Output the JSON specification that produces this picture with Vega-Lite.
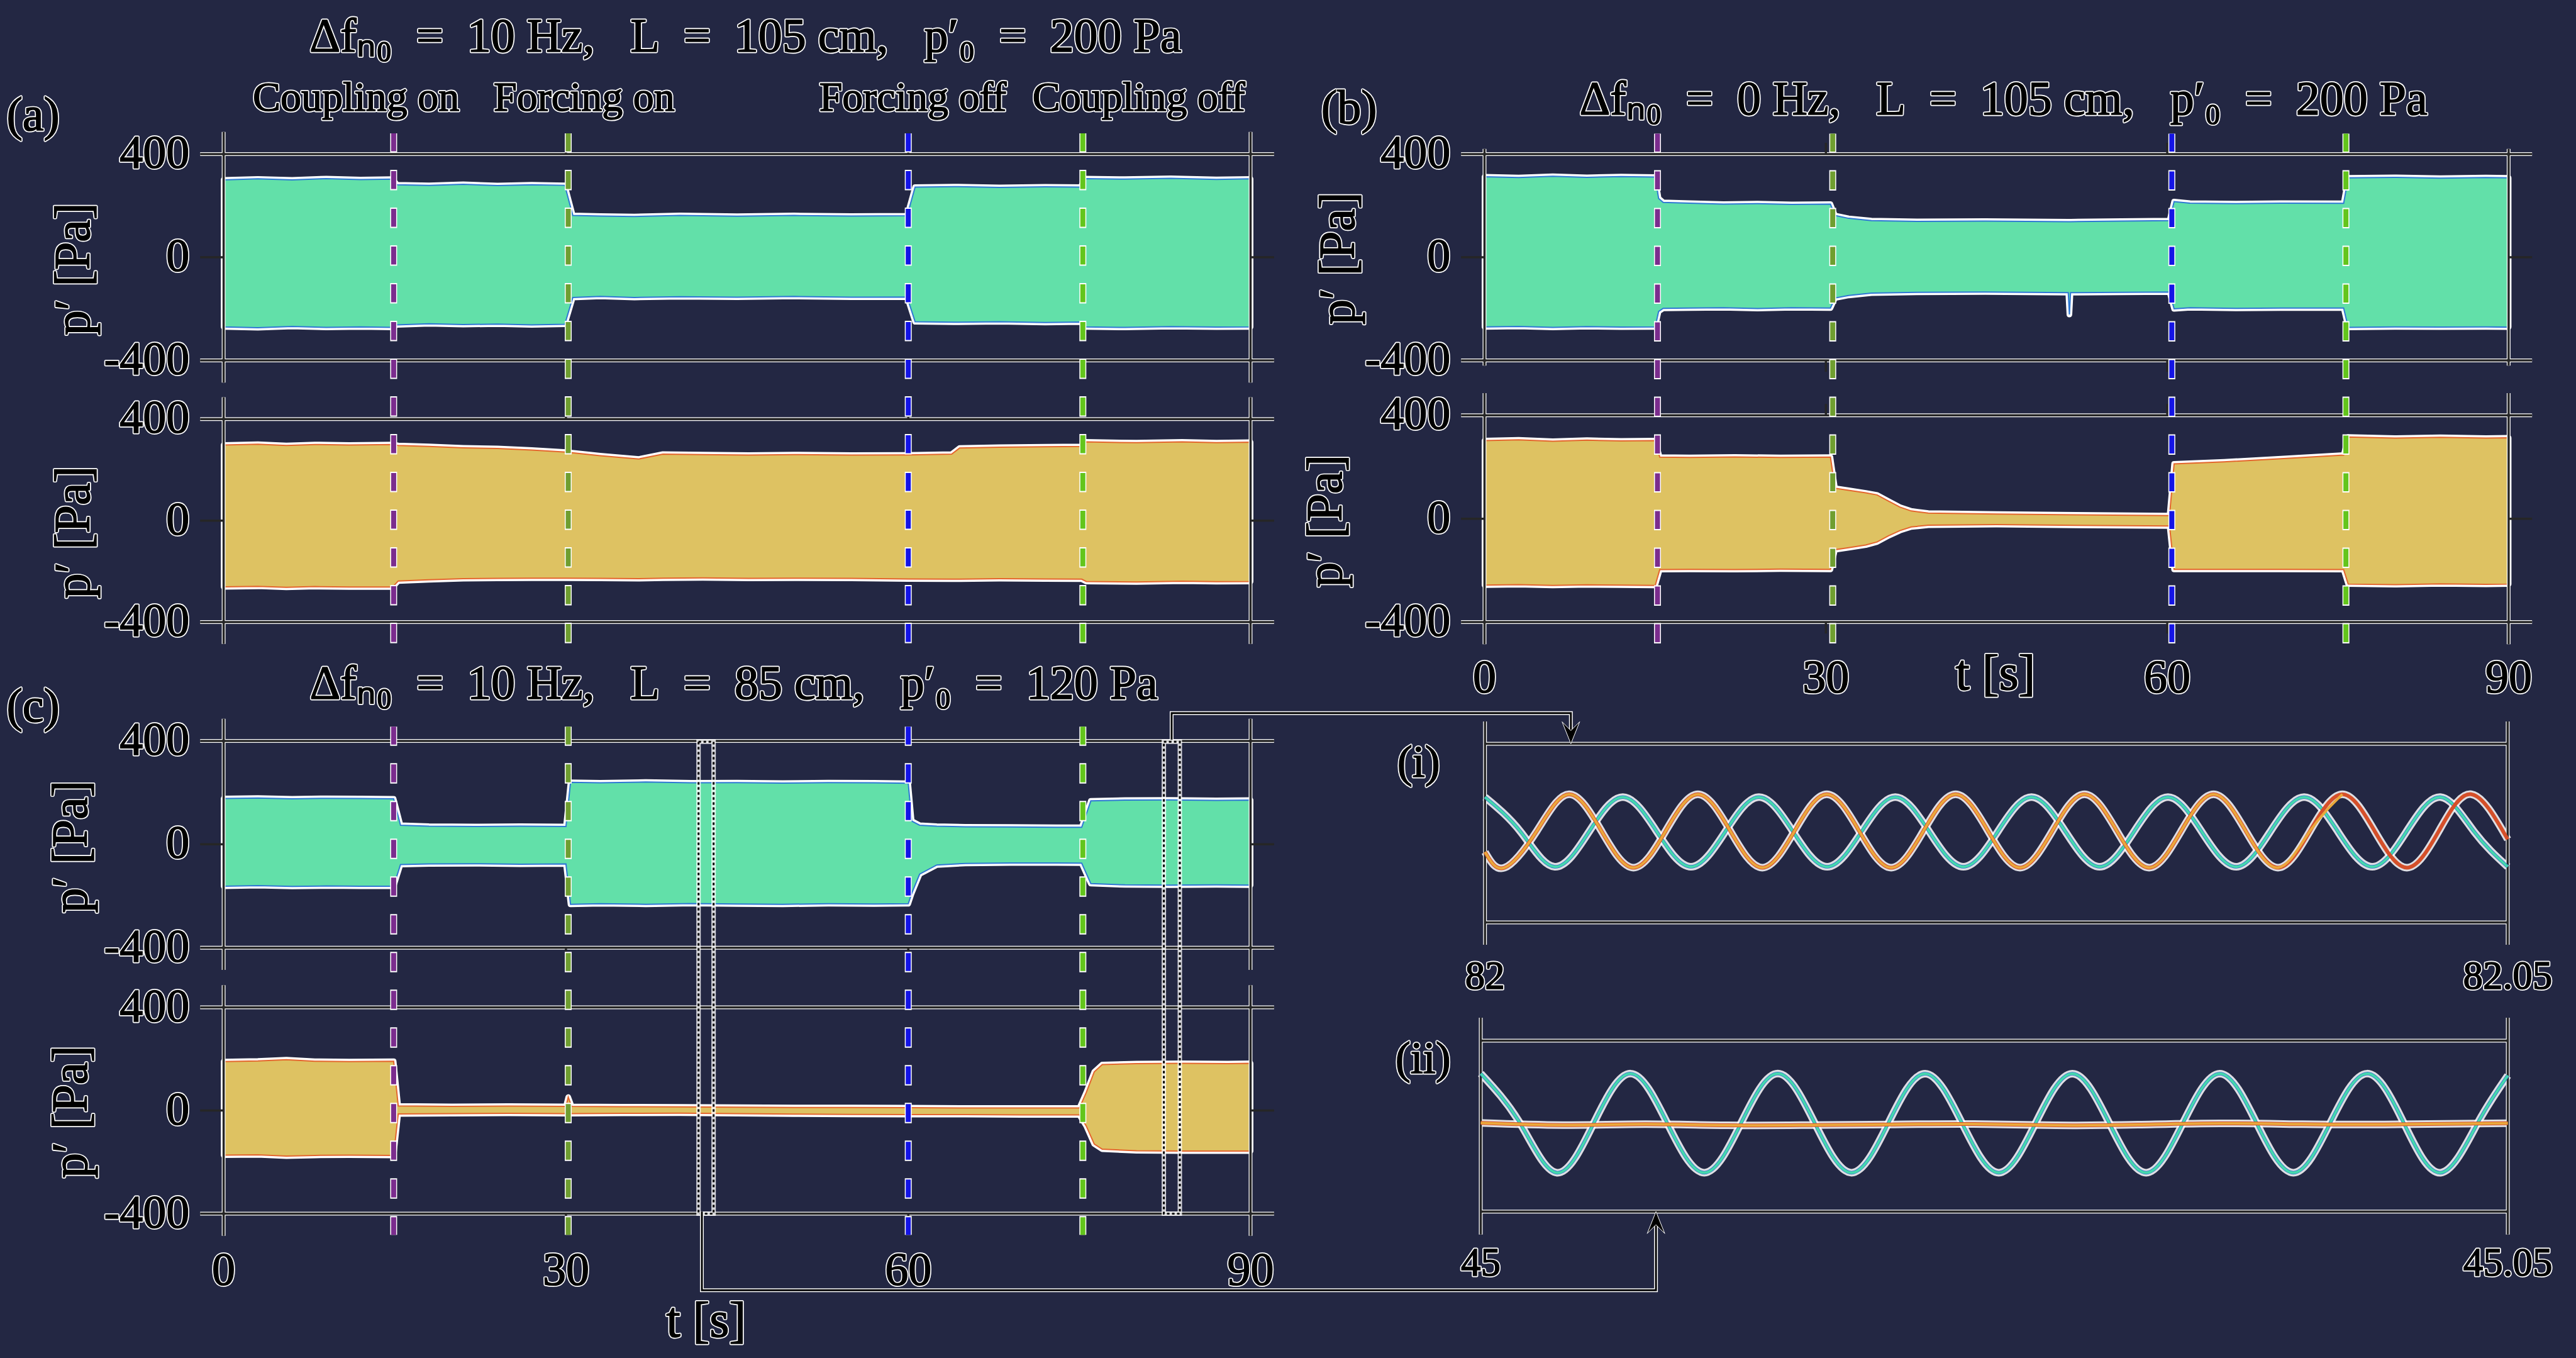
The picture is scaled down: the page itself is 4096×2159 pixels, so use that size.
{
"$schema":"https://vega.github.io/schema/vega-lite/v6.json",
"background":"#232743",
"padding":0,
"config":{"view":{"stroke":null},"axis":{"disable":true}},
"columns":2,
"spacing":0,
"bounds":"flush",
"datasets":{
"hl":[{"v":400},{"v":-400}],
"vl":[{"t":0},{"t":90}],
"mt":[{"t":30},{"t":60}],
"yt":[{"v":400,"label":"400"},{"v":0,"label":"0"},{"v":-400,"label":"-400"}],
"xt":[{"t":0,"label":"0"},{"t":30,"label":"30"},{"t":60,"label":"60"},{"t":90,"label":"90"}],
"notes":[{"t":11.6,"label":"Coupling on"},{"t":31.6,"label":"Forcing on"},{"t":60.4,"label":"Forcing off"},{"t":80.2,"label":"Coupling off"}],
"ev_ac":[{"t":14.9,"event":"Coupling on"},{"t":30.2,"event":"Forcing on"},{"t":60.0,"event":"Forcing off"},{"t":75.3,"event":"Coupling off"}],
"ev_b":[{"t":15.2,"event":"Coupling on"},{"t":30.6,"event":"Forcing on"},{"t":60.4,"event":"Forcing off"},{"t":75.7,"event":"Coupling off"}],
"wins":[{"t1":41.62,"t2":42.94},{"t1":82.4,"t2":83.8}],
"vl_i":[{"t":82},{"t":82.05}],
"vl_ii":[{"t":45},{"t":45.05}],
"xt_i":[{"t":82,"label":"82"},{"t":82.05,"label":"82.05"}],
"xt_ii":[{"t":45,"label":"45"},{"t":45.05,"label":"45.05"}],
"link_i":[{"k":1,"t":81.98468,"v":406},{"k":2,"t":81.98468,"v":537},{"k":3,"t":82.0042,"v":537},{"k":4,"t":82.0042,"v":460}],
"link_ii":[{"k":1,"t":44.96208,"v":-400},{"k":2,"t":44.96208,"v":-768},{"k":3,"t":45.00853,"v":-768},{"k":4,"t":45.00853,"v":-460}],
"tip_i":[{"t":82.0042,"v":400}],
"tip_ii":[{"t":45.00853,"v":-400}],
"env_at":[{"t":0,"up":300,"lo":-270},{"t":3,"up":304,"lo":-273},{"t":6,"up":300,"lo":-268},{"t":9,"up":305,"lo":-272},{"t":12,"up":301,"lo":-270},{"t":14.8,"up":303,"lo":-272},{"t":15.2,"up":281,"lo":-262},{"t":18,"up":279,"lo":-258},{"t":21,"up":283,"lo":-261},{"t":24,"up":278,"lo":-259},{"t":27,"up":281,"lo":-262},{"t":29.9,"up":279,"lo":-260},{"t":30.6,"up":162,"lo":-156},{"t":33,"up":160,"lo":-152},{"t":36,"up":158,"lo":-156},{"t":40,"up":162,"lo":-153},{"t":45,"up":159,"lo":-155},{"t":50,"up":162,"lo":-152},{"t":55,"up":160,"lo":-155},{"t":59.9,"up":161,"lo":-154},{"t":60.6,"up":272,"lo":-250},{"t":64,"up":274,"lo":-252},{"t":68,"up":271,"lo":-250},{"t":72,"up":273,"lo":-253},{"t":75.1,"up":272,"lo":-251},{"t":75.5,"up":305,"lo":-270},{"t":79,"up":303,"lo":-272},{"t":83,"up":306,"lo":-269},{"t":87,"up":302,"lo":-271},{"t":90,"up":304,"lo":-270}],
"env_ab":[{"t":0,"up":298,"lo":-261},{"t":3,"up":301,"lo":-259},{"t":5.5,"up":296,"lo":-263},{"t":8,"up":300,"lo":-260},{"t":11,"up":298,"lo":-262},{"t":14.8,"up":300,"lo":-262},{"t":15.3,"up":296,"lo":-238},{"t":18,"up":292,"lo":-233},{"t":21,"up":287,"lo":-229},{"t":24,"up":284,"lo":-228},{"t":27,"up":278,"lo":-227},{"t":30,"up":270,"lo":-227},{"t":33,"up":256,"lo":-228},{"t":36.4,"up":243,"lo":-229},{"t":38.5,"up":262,"lo":-227},{"t":42,"up":260,"lo":-226},{"t":46,"up":258,"lo":-228},{"t":50,"up":260,"lo":-227},{"t":55,"up":258,"lo":-228},{"t":60,"up":259,"lo":-230},{"t":63.8,"up":262,"lo":-231},{"t":64.5,"up":286,"lo":-231},{"t":68,"up":289,"lo":-229},{"t":72,"up":291,"lo":-230},{"t":75.2,"up":292,"lo":-231},{"t":75.6,"up":310,"lo":-240},{"t":80,"up":307,"lo":-242},{"t":84,"up":310,"lo":-239},{"t":87,"up":307,"lo":-241},{"t":90,"up":309,"lo":-240}],
"env_bt":[{"t":0,"up":312,"lo":-270},{"t":3,"up":309,"lo":-268},{"t":6,"up":314,"lo":-272},{"t":9,"up":310,"lo":-269},{"t":12,"up":313,"lo":-271},{"t":15.0,"up":311,"lo":-270},{"t":15.3,"up":228,"lo":-210},{"t":15.7,"up":213,"lo":-198},{"t":18,"up":210,"lo":-197},{"t":21,"up":206,"lo":-196},{"t":24,"up":208,"lo":-199},{"t":27,"up":205,"lo":-196},{"t":30.4,"up":206,"lo":-197},{"t":30.8,"up":162,"lo":-158},{"t":32,"up":151,"lo":-148},{"t":34,"up":142,"lo":-139},{"t":38,"up":139,"lo":-136},{"t":44,"up":140,"lo":-135},{"t":51.3,"up":138,"lo":-137},{"t":51.4,"up":138,"lo":-222},{"t":51.5,"up":138,"lo":-137},{"t":56,"up":140,"lo":-136},{"t":60.2,"up":142,"lo":-135},{"t":60.6,"up":216,"lo":-200},{"t":62,"up":210,"lo":-196},{"t":66,"up":208,"lo":-198},{"t":70,"up":210,"lo":-197},{"t":75.5,"up":209,"lo":-197},{"t":75.9,"up":308,"lo":-272},{"t":80,"up":310,"lo":-270},{"t":84,"up":307,"lo":-271},{"t":88,"up":309,"lo":-270},{"t":90,"up":308,"lo":-271}],
"env_bb":[{"t":0,"up":302,"lo":-257},{"t":3,"up":305,"lo":-255},{"t":6,"up":300,"lo":-258},{"t":9,"up":304,"lo":-256},{"t":12,"up":301,"lo":-257},{"t":15.0,"up":302,"lo":-258},{"t":15.4,"up":238,"lo":-197},{"t":18,"up":237,"lo":-196},{"t":22,"up":239,"lo":-197},{"t":26,"up":237,"lo":-195},{"t":30.4,"up":238,"lo":-196},{"t":30.8,"up":118,"lo":-120},{"t":32,"up":110,"lo":-112},{"t":33.5,"up":100,"lo":-102},{"t":34.5,"up":92,"lo":-90},{"t":35.5,"up":68,"lo":-66},{"t":36.5,"up":45,"lo":-46},{"t":37.5,"up":30,"lo":-32},{"t":39,"up":22,"lo":-25},{"t":45,"up":18,"lo":-23},{"t":52,"up":15,"lo":-26},{"t":60.2,"up":12,"lo":-28},{"t":60.6,"up":212,"lo":-196},{"t":65,"up":220,"lo":-196},{"t":70,"up":232,"lo":-196},{"t":75.5,"up":246,"lo":-197},{"t":75.9,"up":316,"lo":-253},{"t":80,"up":312,"lo":-255},{"t":84,"up":315,"lo":-252},{"t":88,"up":312,"lo":-254},{"t":90,"up":313,"lo":-253}],
"env_ct":[{"t":0,"up":177,"lo":-162},{"t":3,"up":179,"lo":-160},{"t":6,"up":176,"lo":-163},{"t":9,"up":178,"lo":-161},{"t":12,"up":177,"lo":-162},{"t":14.9,"up":176,"lo":-162},{"t":15.5,"up":74,"lo":-78},{"t":18,"up":70,"lo":-76},{"t":22,"up":69,"lo":-75},{"t":26,"up":70,"lo":-77},{"t":30.0,"up":69,"lo":-76},{"t":30.4,"up":240,"lo":-232},{"t":33,"up":238,"lo":-230},{"t":37,"up":241,"lo":-232},{"t":41,"up":238,"lo":-229},{"t":45,"up":239,"lo":-231},{"t":49,"up":237,"lo":-232},{"t":53,"up":239,"lo":-230},{"t":57,"up":238,"lo":-231},{"t":60.0,"up":236,"lo":-230},{"t":60.3,"up":90,"lo":-190},{"t":61.0,"up":74,"lo":-115},{"t":62.5,"up":70,"lo":-80},{"t":65,"up":68,"lo":-74},{"t":69,"up":67,"lo":-72},{"t":73,"up":66,"lo":-72},{"t":75.2,"up":66,"lo":-73},{"t":76.0,"up":168,"lo":-152},{"t":79,"up":171,"lo":-157},{"t":83,"up":172,"lo":-158},{"t":87,"up":170,"lo":-157},{"t":90,"up":171,"lo":-158}],
"env_cb":[{"t":0,"up":190,"lo":-173},{"t":3,"up":192,"lo":-172},{"t":5.5,"up":197,"lo":-177},{"t":8,"up":191,"lo":-174},{"t":11,"up":190,"lo":-173},{"t":14.9,"up":191,"lo":-174},{"t":15.3,"up":18,"lo":-13},{"t":20,"up":16,"lo":-12},{"t":25,"up":17,"lo":-11},{"t":30.0,"up":16,"lo":-12},{"t":30.2,"up":52,"lo":-14},{"t":30.5,"up":16,"lo":-12},{"t":35,"up":15,"lo":-11},{"t":40,"up":14,"lo":-10},{"t":45,"up":13,"lo":-12},{"t":50,"up":12,"lo":-14},{"t":55,"up":12,"lo":-15},{"t":60,"up":11,"lo":-16},{"t":65,"up":10,"lo":-16},{"t":70,"up":10,"lo":-17},{"t":75.0,"up":10,"lo":-17},{"t":75.6,"up":70,"lo":-60},{"t":76.3,"up":150,"lo":-130},{"t":77.0,"up":178,"lo":-150},{"t":80,"up":182,"lo":-156},{"t":84,"up":183,"lo":-157},{"t":88,"up":182,"lo":-157},{"t":90,"up":183,"lo":-157}],
"sig_i_teal":[{"t":82.0,"v":161},{"t":82.00175,"v":5},{"t":82.00341,"v":-151},{"t":82.00508,"v":5},{"t":82.00674,"v":161},{"t":82.00841,"v":5},{"t":82.01007,"v":-151},{"t":82.01174,"v":5},{"t":82.0134,"v":161},{"t":82.01507,"v":5},{"t":82.01673,"v":-151},{"t":82.0184,"v":5},{"t":82.02006,"v":161},{"t":82.02173,"v":5},{"t":82.02339,"v":-151},{"t":82.02506,"v":5},{"t":82.02672,"v":161},{"t":82.02839,"v":5},{"t":82.03005,"v":-151},{"t":82.03172,"v":5},{"t":82.03339,"v":161},{"t":82.03505,"v":5},{"t":82.03672,"v":-151},{"t":82.03838,"v":5},{"t":82.04005,"v":161},{"t":82.04171,"v":5},{"t":82.04338,"v":-151},{"t":82.04504,"v":5},{"t":82.04671,"v":161},{"t":82.04837,"v":5},{"t":82.05,"v":-151}],
"sig_i_orange":[{"t":82.0,"v":-85},{"t":82.00096,"v":-155},{"t":82.00254,"v":10},{"t":82.00411,"v":174},{"t":82.00569,"v":10},{"t":82.00726,"v":-155},{"t":82.00884,"v":10},{"t":82.01041,"v":174},{"t":82.01199,"v":10},{"t":82.01356,"v":-155},{"t":82.01514,"v":10},{"t":82.01671,"v":174},{"t":82.01829,"v":10},{"t":82.01986,"v":-155},{"t":82.02144,"v":10},{"t":82.02301,"v":174},{"t":82.02459,"v":10},{"t":82.02616,"v":-155},{"t":82.02774,"v":10},{"t":82.02931,"v":174},{"t":82.03089,"v":10},{"t":82.03247,"v":-155},{"t":82.03404,"v":10},{"t":82.03562,"v":174},{"t":82.03719,"v":10},{"t":82.03877,"v":-155},{"t":82.04034,"v":10},{"t":82.04192,"v":174},{"t":82.04349,"v":10},{"t":82.04507,"v":-155},{"t":82.04664,"v":10},{"t":82.04822,"v":174},{"t":82.05,"v":-28}],
"sig_ii_teal":[{"t":45.0,"v":246},{"t":45.00191,"v":14},{"t":45.00371,"v":-218},{"t":45.0055,"v":14},{"t":45.00729,"v":246},{"t":45.00908,"v":14},{"t":45.01088,"v":-218},{"t":45.01267,"v":14},{"t":45.01446,"v":246},{"t":45.01626,"v":14},{"t":45.01805,"v":-218},{"t":45.01984,"v":14},{"t":45.02163,"v":246},{"t":45.02343,"v":14},{"t":45.02522,"v":-218},{"t":45.02701,"v":14},{"t":45.0288,"v":246},{"t":45.0306,"v":14},{"t":45.03239,"v":-218},{"t":45.03418,"v":14},{"t":45.03598,"v":246},{"t":45.03777,"v":14},{"t":45.03956,"v":-218},{"t":45.04135,"v":14},{"t":45.04315,"v":246},{"t":45.04494,"v":14},{"t":45.04673,"v":-218},{"t":45.04853,"v":14},{"t":45.05,"v":237}],
"sig_ii_orange":[{"t":45.0,"v":15},{"t":45.004,"v":5},{"t":45.008,"v":9},{"t":45.012,"v":4},{"t":45.016,"v":5},{"t":45.02,"v":8},{"t":45.024,"v":10},{"t":45.028,"v":4},{"t":45.032,"v":7},{"t":45.036,"v":13},{"t":45.04,"v":9},{"t":45.044,"v":8},{"t":45.05,"v":14}]
},
"concat":[
{"width":2048,"height":620,
"layer":[
{"data":{"name":"env_at"},"mark":{"type":"area","color":"white","stroke":"white","strokeWidth":9,"strokeJoin":"round"},"encoding":{"x":{"field":"t","type":"quantitative","scale":{"domain":[-19.6,93.28],"nice":false,"zero":false}},"y":{"field":"up","type":"quantitative","scale":{"domain":[-514.6,997.6],"nice":false,"zero":false}},"y2":{"field":"lo"}}},
{"data":{"name":"env_at"},"mark":{"type":"area","color":"#62e0a9","stroke":"#2f78d4","strokeWidth":2},"encoding":{"x":{"field":"t","type":"quantitative"},"y":{"field":"up","type":"quantitative"},"y2":{"field":"lo"}}},
{"data":{"name":"hl"},"mark":{"type":"rule","color":"white","strokeWidth":6},"encoding":{"x":{"datum":-2.06},"x2":{"datum":92.06},"y":{"field":"v","type":"quantitative"}}},
{"data":{"name":"vl"},"mark":{"type":"rule","color":"white","strokeWidth":6},"encoding":{"x":{"field":"t","type":"quantitative"},"y":{"datum":-486},"y2":{"datum":486}}},
{"data":{"name":"hl"},"mark":{"type":"rule","color":"#262626","strokeWidth":3.5},"encoding":{"x":{"datum":-2.06},"x2":{"datum":92.06},"y":{"field":"v","type":"quantitative"}}},
{"data":{"name":"vl"},"mark":{"type":"rule","color":"#262626","strokeWidth":3.5},"encoding":{"x":{"field":"t","type":"quantitative"},"y":{"datum":-486},"y2":{"datum":486}}},
{"data":{"values":[{}]},"mark":{"type":"rule","color":"#262626","strokeWidth":3.5},"encoding":{"x":{"datum":-2.06},"x2":{"datum":0},"y":{"datum":0}}},
{"data":{"values":[{}]},"mark":{"type":"rule","color":"#262626","strokeWidth":3.5},"encoding":{"x":{"datum":90},"x2":{"datum":92.06},"y":{"datum":0}}},
{"data":{"name":"mt"},"mark":{"type":"rule","color":"#262626","strokeWidth":3.5},"encoding":{"x":{"field":"t","type":"quantitative"},"y":{"datum":400},"y2":{"datum":444}}},
{"data":{"name":"mt"},"mark":{"type":"rule","color":"#262626","strokeWidth":3.5},"encoding":{"x":{"field":"t","type":"quantitative"},"y":{"datum":-400},"y2":{"datum":-444}}},
{"data":{"name":"yt"},"mark":{"type":"text","font":"Liberation Serif","fontSize":74,"align":"right","baseline":"middle","color":"white","stroke":"white","strokeWidth":5,"strokeJoin":"round"},"encoding":{"x":{"datum":-3},"y":{"field":"v","type":"quantitative"},"text":{"field":"label"}}},
{"data":{"name":"yt"},"mark":{"type":"text","font":"Liberation Serif","fontSize":74,"align":"right","baseline":"middle","color":"black","stroke":"black","strokeWidth":1.6},"encoding":{"x":{"datum":-3},"y":{"field":"v","type":"quantitative"},"text":{"field":"label"}}},
{"data":{"values":[{}]},"mark":{"type":"text","font":"Liberation Serif","fontSize":80,"align":"center","baseline":"middle","angle":270,"color":"white","stroke":"white","strokeWidth":5,"strokeJoin":"round"},"encoding":{"x":{"datum":-13.1},"y":{"datum":-46},"text":{"value":"p\u2032 [Pa]"}}},
{"data":{"values":[{}]},"mark":{"type":"text","font":"Liberation Serif","fontSize":80,"align":"center","baseline":"middle","angle":270,"color":"black","stroke":"black","strokeWidth":1.6},"encoding":{"x":{"datum":-13.1},"y":{"datum":-46},"text":{"value":"p\u2032 [Pa]"}}},
{"data":{"values":[{}]},"mark":{"type":"text","font":"Liberation Serif","fontSize":76,"align":"center","baseline":"alphabetic","color":"white","stroke":"white","strokeWidth":5,"strokeJoin":"round"},"encoding":{"x":{"datum":45.74},"y":{"datum":798.8},"text":{"value":"\u0394f\u2099\u2080\u00a0\u00a0=\u00a0\u00a010\u00a0Hz,\u00a0\u00a0\u00a0L\u00a0\u00a0=\u00a0\u00a0105\u00a0cm,\u00a0\u00a0\u00a0p\u2032\u2080\u00a0\u00a0=\u00a0\u00a0200\u00a0Pa"}}},
{"data":{"values":[{}]},"mark":{"type":"text","font":"Liberation Serif","fontSize":76,"align":"center","baseline":"alphabetic","color":"black","stroke":"black","strokeWidth":1.6},"encoding":{"x":{"datum":45.74},"y":{"datum":798.8},"text":{"value":"\u0394f\u2099\u2080\u00a0\u00a0=\u00a0\u00a010\u00a0Hz,\u00a0\u00a0\u00a0L\u00a0\u00a0=\u00a0\u00a0105\u00a0cm,\u00a0\u00a0\u00a0p\u2032\u2080\u00a0\u00a0=\u00a0\u00a0200\u00a0Pa"}}},
{"data":{"values":[{}]},"mark":{"type":"text","font":"Liberation Serif","fontSize":76,"align":"center","baseline":"middle","color":"white","stroke":"white","strokeWidth":5,"strokeJoin":"round"},"encoding":{"x":{"datum":-16.7},"y":{"datum":547.6},"text":{"value":"(a)"}}},
{"data":{"values":[{}]},"mark":{"type":"text","font":"Liberation Serif","fontSize":76,"align":"center","baseline":"middle","color":"black","stroke":"black","strokeWidth":1.6},"encoding":{"x":{"datum":-16.7},"y":{"datum":547.6},"text":{"value":"(a)"}}},
{"data":{"name":"notes"},"mark":{"type":"text","font":"Liberation Serif","fontSize":66,"align":"center","baseline":"alphabetic","color":"white","stroke":"white","strokeWidth":5,"strokeJoin":"round"},"encoding":{"x":{"field":"t","type":"quantitative"},"y":{"datum":568},"text":{"field":"label"}}},
{"data":{"name":"notes"},"mark":{"type":"text","font":"Liberation Serif","fontSize":66,"align":"center","baseline":"alphabetic","color":"black","stroke":"black","strokeWidth":1.6},"encoding":{"x":{"field":"t","type":"quantitative"},"y":{"datum":568},"text":{"field":"label"}}}
]},
{"width":2048,"height":620,
"layer":[
{"data":{"name":"env_bt"},"mark":{"type":"area","color":"white","stroke":"white","strokeWidth":9,"strokeJoin":"round"},"encoding":{"x":{"field":"t","type":"quantitative","scale":{"domain":[-17.27,95.92],"nice":false,"zero":false}},"y":{"field":"up","type":"quantitative","scale":{"domain":[-514.6,997.6],"nice":false,"zero":false}},"y2":{"field":"lo"}}},
{"data":{"name":"env_bt"},"mark":{"type":"area","color":"#62e0a9","stroke":"#2f78d4","strokeWidth":2},"encoding":{"x":{"field":"t","type":"quantitative"},"y":{"field":"up","type":"quantitative"},"y2":{"field":"lo"}}},
{"data":{"name":"hl"},"mark":{"type":"rule","color":"white","strokeWidth":6},"encoding":{"x":{"datum":-2.06},"x2":{"datum":92.06},"y":{"field":"v","type":"quantitative"}}},
{"data":{"name":"vl"},"mark":{"type":"rule","color":"white","strokeWidth":6},"encoding":{"x":{"field":"t","type":"quantitative"},"y":{"datum":-420},"y2":{"datum":420}}},
{"data":{"name":"hl"},"mark":{"type":"rule","color":"#262626","strokeWidth":3.5},"encoding":{"x":{"datum":-2.06},"x2":{"datum":92.06},"y":{"field":"v","type":"quantitative"}}},
{"data":{"name":"vl"},"mark":{"type":"rule","color":"#262626","strokeWidth":3.5},"encoding":{"x":{"field":"t","type":"quantitative"},"y":{"datum":-420},"y2":{"datum":420}}},
{"data":{"values":[{}]},"mark":{"type":"rule","color":"#262626","strokeWidth":3.5},"encoding":{"x":{"datum":-2.06},"x2":{"datum":0},"y":{"datum":0}}},
{"data":{"values":[{}]},"mark":{"type":"rule","color":"#262626","strokeWidth":3.5},"encoding":{"x":{"datum":90},"x2":{"datum":92.06},"y":{"datum":0}}},
{"data":{"name":"mt"},"mark":{"type":"rule","color":"#262626","strokeWidth":3.5},"encoding":{"x":{"field":"t","type":"quantitative"},"y":{"datum":400},"y2":{"datum":444}}},
{"data":{"name":"mt"},"mark":{"type":"rule","color":"#262626","strokeWidth":3.5},"encoding":{"x":{"field":"t","type":"quantitative"},"y":{"datum":-400},"y2":{"datum":-444}}},
{"data":{"name":"yt"},"mark":{"type":"text","font":"Liberation Serif","fontSize":74,"align":"right","baseline":"middle","color":"white","stroke":"white","strokeWidth":5,"strokeJoin":"round"},"encoding":{"x":{"datum":-3},"y":{"field":"v","type":"quantitative"},"text":{"field":"label"}}},
{"data":{"name":"yt"},"mark":{"type":"text","font":"Liberation Serif","fontSize":74,"align":"right","baseline":"middle","color":"black","stroke":"black","strokeWidth":1.6},"encoding":{"x":{"datum":-3},"y":{"field":"v","type":"quantitative"},"text":{"field":"label"}}},
{"data":{"values":[{}]},"mark":{"type":"text","font":"Liberation Serif","fontSize":80,"align":"center","baseline":"middle","angle":270,"color":"white","stroke":"white","strokeWidth":5,"strokeJoin":"round"},"encoding":{"x":{"datum":-12.8},"y":{"datum":-4},"text":{"value":"p\u2032 [Pa]"}}},
{"data":{"values":[{}]},"mark":{"type":"text","font":"Liberation Serif","fontSize":80,"align":"center","baseline":"middle","angle":270,"color":"black","stroke":"black","strokeWidth":1.6},"encoding":{"x":{"datum":-12.8},"y":{"datum":-4},"text":{"value":"p\u2032 [Pa]"}}},
{"data":{"values":[{}]},"mark":{"type":"text","font":"Liberation Serif","fontSize":76,"align":"center","baseline":"alphabetic","color":"white","stroke":"white","strokeWidth":5,"strokeJoin":"round"},"encoding":{"x":{"datum":45.6},"y":{"datum":553},"text":{"value":"\u0394f\u2099\u2080\u00a0\u00a0=\u00a0\u00a00\u00a0Hz,\u00a0\u00a0\u00a0L\u00a0\u00a0=\u00a0\u00a0105\u00a0cm,\u00a0\u00a0\u00a0p\u2032\u2080\u00a0\u00a0=\u00a0\u00a0200\u00a0Pa"}}},
{"data":{"values":[{}]},"mark":{"type":"text","font":"Liberation Serif","fontSize":76,"align":"center","baseline":"alphabetic","color":"black","stroke":"black","strokeWidth":1.6},"encoding":{"x":{"datum":45.6},"y":{"datum":553},"text":{"value":"\u0394f\u2099\u2080\u00a0\u00a0=\u00a0\u00a00\u00a0Hz,\u00a0\u00a0\u00a0L\u00a0\u00a0=\u00a0\u00a0105\u00a0cm,\u00a0\u00a0\u00a0p\u2032\u2080\u00a0\u00a0=\u00a0\u00a0200\u00a0Pa"}}},
{"data":{"values":[{}]},"mark":{"type":"text","font":"Liberation Serif","fontSize":76,"align":"center","baseline":"middle","color":"white","stroke":"white","strokeWidth":5,"strokeJoin":"round"},"encoding":{"x":{"datum":-11.9},"y":{"datum":575},"text":{"value":"(b)"}}},
{"data":{"values":[{}]},"mark":{"type":"text","font":"Liberation Serif","fontSize":76,"align":"center","baseline":"middle","color":"black","stroke":"black","strokeWidth":1.6},"encoding":{"x":{"datum":-11.9},"y":{"datum":575},"text":{"value":"(b)"}}}
]},
{"width":2048,"height":460,
"layer":[
{"data":{"name":"env_ab"},"mark":{"type":"area","color":"white","stroke":"white","strokeWidth":9,"strokeJoin":"round"},"encoding":{"x":{"field":"t","type":"quantitative","scale":{"domain":[-19.6,93.28],"nice":false,"zero":false}},"y":{"field":"up","type":"quantitative","scale":{"domain":[-625.6,514.8],"nice":false,"zero":false}},"y2":{"field":"lo"}}},
{"data":{"name":"env_ab"},"mark":{"type":"area","color":"#dec262","stroke":"#e4662e","strokeWidth":2},"encoding":{"x":{"field":"t","type":"quantitative"},"y":{"field":"up","type":"quantitative"},"y2":{"field":"lo"}}},
{"data":{"name":"hl"},"mark":{"type":"rule","color":"white","strokeWidth":6},"encoding":{"x":{"datum":-2.06},"x2":{"datum":92.06},"y":{"field":"v","type":"quantitative"}}},
{"data":{"name":"vl"},"mark":{"type":"rule","color":"white","strokeWidth":6},"encoding":{"x":{"field":"t","type":"quantitative"},"y":{"datum":-486},"y2":{"datum":486}}},
{"data":{"name":"hl"},"mark":{"type":"rule","color":"#262626","strokeWidth":3.5},"encoding":{"x":{"datum":-2.06},"x2":{"datum":92.06},"y":{"field":"v","type":"quantitative"}}},
{"data":{"name":"vl"},"mark":{"type":"rule","color":"#262626","strokeWidth":3.5},"encoding":{"x":{"field":"t","type":"quantitative"},"y":{"datum":-486},"y2":{"datum":486}}},
{"data":{"values":[{}]},"mark":{"type":"rule","color":"#262626","strokeWidth":3.5},"encoding":{"x":{"datum":-2.06},"x2":{"datum":0},"y":{"datum":0}}},
{"data":{"values":[{}]},"mark":{"type":"rule","color":"#262626","strokeWidth":3.5},"encoding":{"x":{"datum":90},"x2":{"datum":92.06},"y":{"datum":0}}},
{"data":{"name":"mt"},"mark":{"type":"rule","color":"#262626","strokeWidth":3.5},"encoding":{"x":{"field":"t","type":"quantitative"},"y":{"datum":400},"y2":{"datum":444}}},
{"data":{"name":"mt"},"mark":{"type":"rule","color":"#262626","strokeWidth":3.5},"encoding":{"x":{"field":"t","type":"quantitative"},"y":{"datum":-400},"y2":{"datum":-444}}},
{"data":{"name":"yt"},"mark":{"type":"text","font":"Liberation Serif","fontSize":74,"align":"right","baseline":"middle","color":"white","stroke":"white","strokeWidth":5,"strokeJoin":"round"},"encoding":{"x":{"datum":-3},"y":{"field":"v","type":"quantitative"},"text":{"field":"label"}}},
{"data":{"name":"yt"},"mark":{"type":"text","font":"Liberation Serif","fontSize":74,"align":"right","baseline":"middle","color":"black","stroke":"black","strokeWidth":1.6},"encoding":{"x":{"datum":-3},"y":{"field":"v","type":"quantitative"},"text":{"field":"label"}}},
{"data":{"values":[{}]},"mark":{"type":"text","font":"Liberation Serif","fontSize":80,"align":"center","baseline":"middle","angle":270,"color":"white","stroke":"white","strokeWidth":5,"strokeJoin":"round"},"encoding":{"x":{"datum":-13.1},"y":{"datum":-46},"text":{"value":"p\u2032 [Pa]"}}},
{"data":{"values":[{}]},"mark":{"type":"text","font":"Liberation Serif","fontSize":80,"align":"center","baseline":"middle","angle":270,"color":"black","stroke":"black","strokeWidth":1.6},"encoding":{"x":{"datum":-13.1},"y":{"datum":-46},"text":{"value":"p\u2032 [Pa]"}}},
{"data":{"name":"ev_ac"},"mark":{"type":"rule","color":"white","strokeWidth":11,"strokeDash":[32.5,27.5],"strokeDashOffset":2,"strokeCap":"butt"},"encoding":{"x":{"field":"t","type":"quantitative"},"y":{"datum":1526},"y2":{"datum":-489}}},
{"data":{"name":"ev_ac"},"mark":{"type":"rule","strokeWidth":8,"strokeDash":[28.5,31.5],"strokeCap":"butt"},"encoding":{"x":{"field":"t","type":"quantitative"},"y":{"datum":1526},"y2":{"datum":-489},"color":{"field":"event","type":"nominal","scale":{"domain":["Coupling on","Forcing on","Forcing off","Coupling off"],"range":["#7b2d8e","#6f9e30","#1414e6","#63c51c"]},"legend":null}}}
]},
{"width":2048,"height":460,
"layer":[
{"data":{"name":"env_bb"},"mark":{"type":"area","color":"white","stroke":"white","strokeWidth":9,"strokeJoin":"round"},"encoding":{"x":{"field":"t","type":"quantitative","scale":{"domain":[-17.27,95.92],"nice":false,"zero":false}},"y":{"field":"up","type":"quantitative","scale":{"domain":[-621.4,498.1],"nice":false,"zero":false}},"y2":{"field":"lo"}}},
{"data":{"name":"env_bb"},"mark":{"type":"area","color":"#dec262","stroke":"#e4662e","strokeWidth":2},"encoding":{"x":{"field":"t","type":"quantitative"},"y":{"field":"up","type":"quantitative"},"y2":{"field":"lo"}}},
{"data":{"name":"hl"},"mark":{"type":"rule","color":"white","strokeWidth":6},"encoding":{"x":{"datum":-2.06},"x2":{"datum":92.06},"y":{"field":"v","type":"quantitative"}}},
{"data":{"name":"vl"},"mark":{"type":"rule","color":"white","strokeWidth":6},"encoding":{"x":{"field":"t","type":"quantitative"},"y":{"datum":-486},"y2":{"datum":486}}},
{"data":{"name":"hl"},"mark":{"type":"rule","color":"#262626","strokeWidth":3.5},"encoding":{"x":{"datum":-2.06},"x2":{"datum":92.06},"y":{"field":"v","type":"quantitative"}}},
{"data":{"name":"vl"},"mark":{"type":"rule","color":"#262626","strokeWidth":3.5},"encoding":{"x":{"field":"t","type":"quantitative"},"y":{"datum":-486},"y2":{"datum":486}}},
{"data":{"values":[{}]},"mark":{"type":"rule","color":"#262626","strokeWidth":3.5},"encoding":{"x":{"datum":-2.06},"x2":{"datum":0},"y":{"datum":0}}},
{"data":{"values":[{}]},"mark":{"type":"rule","color":"#262626","strokeWidth":3.5},"encoding":{"x":{"datum":90},"x2":{"datum":92.06},"y":{"datum":0}}},
{"data":{"name":"mt"},"mark":{"type":"rule","color":"#262626","strokeWidth":3.5},"encoding":{"x":{"field":"t","type":"quantitative"},"y":{"datum":400},"y2":{"datum":444}}},
{"data":{"name":"mt"},"mark":{"type":"rule","color":"#262626","strokeWidth":3.5},"encoding":{"x":{"field":"t","type":"quantitative"},"y":{"datum":-400},"y2":{"datum":-444}}},
{"data":{"name":"yt"},"mark":{"type":"text","font":"Liberation Serif","fontSize":74,"align":"right","baseline":"middle","color":"white","stroke":"white","strokeWidth":5,"strokeJoin":"round"},"encoding":{"x":{"datum":-3},"y":{"field":"v","type":"quantitative"},"text":{"field":"label"}}},
{"data":{"name":"yt"},"mark":{"type":"text","font":"Liberation Serif","fontSize":74,"align":"right","baseline":"middle","color":"black","stroke":"black","strokeWidth":1.6},"encoding":{"x":{"datum":-3},"y":{"field":"v","type":"quantitative"},"text":{"field":"label"}}},
{"data":{"values":[{}]},"mark":{"type":"text","font":"Liberation Serif","fontSize":80,"align":"center","baseline":"middle","angle":270,"color":"white","stroke":"white","strokeWidth":5,"strokeJoin":"round"},"encoding":{"x":{"datum":-13.9},"y":{"datum":-9},"text":{"value":"p\u2032 [Pa]"}}},
{"data":{"values":[{}]},"mark":{"type":"text","font":"Liberation Serif","fontSize":80,"align":"center","baseline":"middle","angle":270,"color":"black","stroke":"black","strokeWidth":1.6},"encoding":{"x":{"datum":-13.9},"y":{"datum":-9},"text":{"value":"p\u2032 [Pa]"}}},
{"data":{"name":"xt"},"mark":{"type":"text","font":"Liberation Serif","fontSize":74,"align":"center","baseline":"middle","color":"white","stroke":"white","strokeWidth":5,"strokeJoin":"round"},"encoding":{"x":{"field":"t","type":"quantitative"},"y":{"datum":-619},"text":{"field":"label"}}},
{"data":{"name":"xt"},"mark":{"type":"text","font":"Liberation Serif","fontSize":74,"align":"center","baseline":"middle","color":"black","stroke":"black","strokeWidth":1.6},"encoding":{"x":{"field":"t","type":"quantitative"},"y":{"datum":-619},"text":{"field":"label"}}},
{"data":{"values":[{}]},"mark":{"type":"text","font":"Liberation Serif","fontSize":80,"align":"center","baseline":"middle","color":"white","stroke":"white","strokeWidth":5,"strokeJoin":"round"},"encoding":{"x":{"datum":44.9},"y":{"datum":-601},"text":{"value":"t [s]"}}},
{"data":{"values":[{}]},"mark":{"type":"text","font":"Liberation Serif","fontSize":80,"align":"center","baseline":"middle","color":"black","stroke":"black","strokeWidth":1.6},"encoding":{"x":{"datum":44.9},"y":{"datum":-601},"text":{"value":"t [s]"}}},
{"data":{"name":"ev_b"},"mark":{"type":"rule","color":"white","strokeWidth":11,"strokeDash":[32.5,27.5],"strokeDashOffset":2,"strokeCap":"butt"},"encoding":{"x":{"field":"t","type":"quantitative"},"y":{"datum":1490},"y2":{"datum":-487}}},
{"data":{"name":"ev_b"},"mark":{"type":"rule","strokeWidth":8,"strokeDash":[28.5,31.5],"strokeCap":"butt"},"encoding":{"x":{"field":"t","type":"quantitative"},"y":{"datum":1490},"y2":{"datum":-487},"color":{"field":"event","type":"nominal","scale":{"domain":["Coupling on","Forcing on","Forcing off","Coupling off"],"range":["#7b2d8e","#6f9e30","#1414e6","#63c51c"]},"legend":null}}}
]},
{"width":2048,"height":478,
"layer":[
{"data":{"name":"env_ct"},"mark":{"type":"area","color":"white","stroke":"white","strokeWidth":9,"strokeJoin":"round"},"encoding":{"x":{"field":"t","type":"quantitative","scale":{"domain":[-19.6,93.28],"nice":false,"zero":false}},"y":{"field":"up","type":"quantitative","scale":{"domain":[-524.8,638.4],"nice":false,"zero":false}},"y2":{"field":"lo"}}},
{"data":{"name":"env_ct"},"mark":{"type":"area","color":"#62e0a9","stroke":"#2f78d4","strokeWidth":2},"encoding":{"x":{"field":"t","type":"quantitative"},"y":{"field":"up","type":"quantitative"},"y2":{"field":"lo"}}},
{"data":{"name":"hl"},"mark":{"type":"rule","color":"white","strokeWidth":6},"encoding":{"x":{"datum":-2.06},"x2":{"datum":92.06},"y":{"field":"v","type":"quantitative"}}},
{"data":{"name":"vl"},"mark":{"type":"rule","color":"white","strokeWidth":6},"encoding":{"x":{"field":"t","type":"quantitative"},"y":{"datum":-486},"y2":{"datum":486}}},
{"data":{"name":"hl"},"mark":{"type":"rule","color":"#262626","strokeWidth":3.5},"encoding":{"x":{"datum":-2.06},"x2":{"datum":92.06},"y":{"field":"v","type":"quantitative"}}},
{"data":{"name":"vl"},"mark":{"type":"rule","color":"#262626","strokeWidth":3.5},"encoding":{"x":{"field":"t","type":"quantitative"},"y":{"datum":-486},"y2":{"datum":486}}},
{"data":{"values":[{}]},"mark":{"type":"rule","color":"#262626","strokeWidth":3.5},"encoding":{"x":{"datum":-2.06},"x2":{"datum":0},"y":{"datum":0}}},
{"data":{"values":[{}]},"mark":{"type":"rule","color":"#262626","strokeWidth":3.5},"encoding":{"x":{"datum":90},"x2":{"datum":92.06},"y":{"datum":0}}},
{"data":{"name":"mt"},"mark":{"type":"rule","color":"#262626","strokeWidth":3.5},"encoding":{"x":{"field":"t","type":"quantitative"},"y":{"datum":400},"y2":{"datum":444}}},
{"data":{"name":"mt"},"mark":{"type":"rule","color":"#262626","strokeWidth":3.5},"encoding":{"x":{"field":"t","type":"quantitative"},"y":{"datum":-400},"y2":{"datum":-444}}},
{"data":{"name":"yt"},"mark":{"type":"text","font":"Liberation Serif","fontSize":74,"align":"right","baseline":"middle","color":"white","stroke":"white","strokeWidth":5,"strokeJoin":"round"},"encoding":{"x":{"datum":-3},"y":{"field":"v","type":"quantitative"},"text":{"field":"label"}}},
{"data":{"name":"yt"},"mark":{"type":"text","font":"Liberation Serif","fontSize":74,"align":"right","baseline":"middle","color":"black","stroke":"black","strokeWidth":1.6},"encoding":{"x":{"datum":-3},"y":{"field":"v","type":"quantitative"},"text":{"field":"label"}}},
{"data":{"values":[{}]},"mark":{"type":"text","font":"Liberation Serif","fontSize":80,"align":"center","baseline":"middle","angle":270,"color":"white","stroke":"white","strokeWidth":5,"strokeJoin":"round"},"encoding":{"x":{"datum":-13.3},"y":{"datum":-9},"text":{"value":"p\u2032 [Pa]"}}},
{"data":{"values":[{}]},"mark":{"type":"text","font":"Liberation Serif","fontSize":80,"align":"center","baseline":"middle","angle":270,"color":"black","stroke":"black","strokeWidth":1.6},"encoding":{"x":{"datum":-13.3},"y":{"datum":-9},"text":{"value":"p\u2032 [Pa]"}}},
{"data":{"values":[{}]},"mark":{"type":"text","font":"Liberation Serif","fontSize":76,"align":"center","baseline":"alphabetic","color":"white","stroke":"white","strokeWidth":5,"strokeJoin":"round"},"encoding":{"x":{"datum":44.7},"y":{"datum":563},"text":{"value":"\u0394f\u2099\u2080\u00a0\u00a0=\u00a0\u00a010\u00a0Hz,\u00a0\u00a0\u00a0L\u00a0\u00a0=\u00a0\u00a085\u00a0cm,\u00a0\u00a0\u00a0p\u2032\u2080\u00a0\u00a0=\u00a0\u00a0120\u00a0Pa"}}},
{"data":{"values":[{}]},"mark":{"type":"text","font":"Liberation Serif","fontSize":76,"align":"center","baseline":"alphabetic","color":"black","stroke":"black","strokeWidth":1.6},"encoding":{"x":{"datum":44.7},"y":{"datum":563},"text":{"value":"\u0394f\u2099\u2080\u00a0\u00a0=\u00a0\u00a010\u00a0Hz,\u00a0\u00a0\u00a0L\u00a0\u00a0=\u00a0\u00a085\u00a0cm,\u00a0\u00a0\u00a0p\u2032\u2080\u00a0\u00a0=\u00a0\u00a0120\u00a0Pa"}}},
{"data":{"values":[{}]},"mark":{"type":"text","font":"Liberation Serif","fontSize":76,"align":"center","baseline":"middle","color":"white","stroke":"white","strokeWidth":5,"strokeJoin":"round"},"encoding":{"x":{"datum":-16.7},"y":{"datum":532},"text":{"value":"(c)"}}},
{"data":{"values":[{}]},"mark":{"type":"text","font":"Liberation Serif","fontSize":76,"align":"center","baseline":"middle","color":"black","stroke":"black","strokeWidth":1.6},"encoding":{"x":{"datum":-16.7},"y":{"datum":532},"text":{"value":"(c)"}}}
]},
{"width":2048,"height":478,
"layer":[
{"data":{"name":"sig_i_teal"},"mark":{"type":"line","interpolate":"natural","color":"white","strokeWidth":12,"opacity":0.85,"strokeJoin":"round"},"encoding":{"x":{"field":"t","type":"quantitative","scale":{"domain":[81.99037,82.05334],"nice":false,"zero":false}},"y":{"field":"v","type":"quantitative","scale":{"domain":[-658.1,688.8],"nice":false,"zero":false}}}},
{"data":{"name":"sig_i_orange"},"mark":{"type":"line","interpolate":"natural","color":"white","strokeWidth":12,"opacity":0.85,"strokeJoin":"round"},"encoding":{"x":{"field":"t","type":"quantitative"},"y":{"field":"v","type":"quantitative"}}},
{"data":{"name":"hl"},"mark":{"type":"rule","color":"white","strokeWidth":6},"encoding":{"x":{"datum":82},"x2":{"datum":82.05},"y":{"field":"v","type":"quantitative"}}},
{"data":{"name":"vl_i"},"mark":{"type":"rule","color":"white","strokeWidth":6},"encoding":{"x":{"field":"t","type":"quantitative"},"y":{"datum":-500},"y2":{"datum":500}}},
{"data":{"name":"hl"},"mark":{"type":"rule","color":"#262626","strokeWidth":3.5},"encoding":{"x":{"datum":82},"x2":{"datum":82.05},"y":{"field":"v","type":"quantitative"}}},
{"data":{"name":"vl_i"},"mark":{"type":"rule","color":"#262626","strokeWidth":3.5},"encoding":{"x":{"field":"t","type":"quantitative"},"y":{"datum":-500},"y2":{"datum":500}}},
{"data":{"name":"sig_i_teal"},"mark":{"type":"line","interpolate":"natural","color":"#2a6fc9","strokeWidth":5.5},"encoding":{"x":{"field":"t","type":"quantitative"},"y":{"field":"v","type":"quantitative"}}},
{"data":{"name":"sig_i_teal"},"mark":{"type":"line","interpolate":"natural","color":"#46d8ad","strokeWidth":4},"encoding":{"x":{"field":"t","type":"quantitative"},"y":{"field":"v","type":"quantitative"}}},
{"data":{"name":"sig_i_orange"},"mark":{"type":"line","interpolate":"natural","color":"#d5502a","strokeWidth":6},"encoding":{"x":{"field":"t","type":"quantitative"},"y":{"field":"v","type":"quantitative"}}},
{"data":{"name":"sig_i_orange"},"transform":[{"filter":"datum.t <= 82.0420"}],"mark":{"type":"line","interpolate":"natural","color":"#eaa83c","strokeWidth":4},"encoding":{"x":{"field":"t","type":"quantitative"},"y":{"field":"v","type":"quantitative"}}},
{"data":{"name":"xt_i"},"mark":{"type":"text","font":"Liberation Serif","fontSize":63,"align":"center","baseline":"middle","color":"white","stroke":"white","strokeWidth":5,"strokeJoin":"round"},"encoding":{"x":{"field":"t","type":"quantitative"},"y":{"datum":-644},"text":{"field":"label"}}},
{"data":{"name":"xt_i"},"mark":{"type":"text","font":"Liberation Serif","fontSize":63,"align":"center","baseline":"middle","color":"black","stroke":"black","strokeWidth":1.6},"encoding":{"x":{"field":"t","type":"quantitative"},"y":{"datum":-644},"text":{"field":"label"}}},
{"data":{"values":[{}]},"mark":{"type":"text","font":"Liberation Serif","fontSize":72,"align":"center","baseline":"middle","color":"white","stroke":"white","strokeWidth":5,"strokeJoin":"round"},"encoding":{"x":{"datum":81.99676},"y":{"datum":314},"text":{"value":"(i)"}}},
{"data":{"values":[{}]},"mark":{"type":"text","font":"Liberation Serif","fontSize":72,"align":"center","baseline":"middle","color":"black","stroke":"black","strokeWidth":1.6},"encoding":{"x":{"datum":81.99676},"y":{"datum":314},"text":{"value":"(i)"}}},
{"data":{"name":"link_i"},"mark":{"type":"line","color":"white","strokeWidth":6},"encoding":{"x":{"field":"t","type":"quantitative"},"y":{"field":"v","type":"quantitative"},"order":{"field":"k","type":"quantitative"}}},
{"data":{"name":"link_i"},"mark":{"type":"line","color":"black","strokeWidth":3},"encoding":{"x":{"field":"t","type":"quantitative"},"y":{"field":"v","type":"quantitative"},"order":{"field":"k","type":"quantitative"}}},
{"data":{"name":"tip_i"},"mark":{"type":"point","shape":"M0,0L-0.8,-2L0,-1.2L0.8,-2Z","filled":true,"color":"black","stroke":"white","strokeWidth":1,"size":1225,"opacity":1},"encoding":{"x":{"field":"t","type":"quantitative"},"y":{"field":"v","type":"quantitative"}}}
]},
{"width":2048,"height":601,
"layer":[
{"data":{"name":"env_cb"},"mark":{"type":"area","color":"white","stroke":"white","strokeWidth":9,"strokeJoin":"round"},"encoding":{"x":{"field":"t","type":"quantitative","scale":{"domain":[-19.6,93.28],"nice":false,"zero":false}},"y":{"field":"up","type":"quantitative","scale":{"domain":[-959.8,506.3],"nice":false,"zero":false}},"y2":{"field":"lo"}}},
{"data":{"name":"env_cb"},"mark":{"type":"area","color":"#dec262","stroke":"#e4662e","strokeWidth":2},"encoding":{"x":{"field":"t","type":"quantitative"},"y":{"field":"up","type":"quantitative"},"y2":{"field":"lo"}}},
{"data":{"name":"hl"},"mark":{"type":"rule","color":"white","strokeWidth":6},"encoding":{"x":{"datum":-2.06},"x2":{"datum":92.06},"y":{"field":"v","type":"quantitative"}}},
{"data":{"name":"vl"},"mark":{"type":"rule","color":"white","strokeWidth":6},"encoding":{"x":{"field":"t","type":"quantitative"},"y":{"datum":-486},"y2":{"datum":486}}},
{"data":{"name":"hl"},"mark":{"type":"rule","color":"#262626","strokeWidth":3.5},"encoding":{"x":{"datum":-2.06},"x2":{"datum":92.06},"y":{"field":"v","type":"quantitative"}}},
{"data":{"name":"vl"},"mark":{"type":"rule","color":"#262626","strokeWidth":3.5},"encoding":{"x":{"field":"t","type":"quantitative"},"y":{"datum":-486},"y2":{"datum":486}}},
{"data":{"values":[{}]},"mark":{"type":"rule","color":"#262626","strokeWidth":3.5},"encoding":{"x":{"datum":-2.06},"x2":{"datum":0},"y":{"datum":0}}},
{"data":{"values":[{}]},"mark":{"type":"rule","color":"#262626","strokeWidth":3.5},"encoding":{"x":{"datum":90},"x2":{"datum":92.06},"y":{"datum":0}}},
{"data":{"name":"mt"},"mark":{"type":"rule","color":"#262626","strokeWidth":3.5},"encoding":{"x":{"field":"t","type":"quantitative"},"y":{"datum":400},"y2":{"datum":444}}},
{"data":{"name":"mt"},"mark":{"type":"rule","color":"#262626","strokeWidth":3.5},"encoding":{"x":{"field":"t","type":"quantitative"},"y":{"datum":-400},"y2":{"datum":-444}}},
{"data":{"name":"yt"},"mark":{"type":"text","font":"Liberation Serif","fontSize":74,"align":"right","baseline":"middle","color":"white","stroke":"white","strokeWidth":5,"strokeJoin":"round"},"encoding":{"x":{"datum":-3},"y":{"field":"v","type":"quantitative"},"text":{"field":"label"}}},
{"data":{"name":"yt"},"mark":{"type":"text","font":"Liberation Serif","fontSize":74,"align":"right","baseline":"middle","color":"black","stroke":"black","strokeWidth":1.6},"encoding":{"x":{"datum":-3},"y":{"field":"v","type":"quantitative"},"text":{"field":"label"}}},
{"data":{"values":[{}]},"mark":{"type":"text","font":"Liberation Serif","fontSize":80,"align":"center","baseline":"middle","angle":270,"color":"white","stroke":"white","strokeWidth":5,"strokeJoin":"round"},"encoding":{"x":{"datum":-13.3},"y":{"datum":-5},"text":{"value":"p\u2032 [Pa]"}}},
{"data":{"values":[{}]},"mark":{"type":"text","font":"Liberation Serif","fontSize":80,"align":"center","baseline":"middle","angle":270,"color":"black","stroke":"black","strokeWidth":1.6},"encoding":{"x":{"datum":-13.3},"y":{"datum":-5},"text":{"value":"p\u2032 [Pa]"}}},
{"data":{"name":"xt"},"mark":{"type":"text","font":"Liberation Serif","fontSize":74,"align":"center","baseline":"middle","color":"white","stroke":"white","strokeWidth":5,"strokeJoin":"round"},"encoding":{"x":{"field":"t","type":"quantitative"},"y":{"datum":-624},"text":{"field":"label"}}},
{"data":{"name":"xt"},"mark":{"type":"text","font":"Liberation Serif","fontSize":74,"align":"center","baseline":"middle","color":"black","stroke":"black","strokeWidth":1.6},"encoding":{"x":{"field":"t","type":"quantitative"},"y":{"datum":-624},"text":{"field":"label"}}},
{"data":{"values":[{}]},"mark":{"type":"text","font":"Liberation Serif","fontSize":80,"align":"center","baseline":"middle","color":"white","stroke":"white","strokeWidth":5,"strokeJoin":"round"},"encoding":{"x":{"datum":42.28},"y":{"datum":-819},"text":{"value":"t [s]"}}},
{"data":{"values":[{}]},"mark":{"type":"text","font":"Liberation Serif","fontSize":80,"align":"center","baseline":"middle","color":"black","stroke":"black","strokeWidth":1.6},"encoding":{"x":{"datum":42.28},"y":{"datum":-819},"text":{"value":"t [s]"}}},
{"data":{"name":"ev_ac"},"mark":{"type":"rule","color":"white","strokeWidth":11,"strokeDash":[32.5,27.5],"strokeDashOffset":2,"strokeCap":"butt"},"encoding":{"x":{"field":"t","type":"quantitative"},"y":{"datum":1489},"y2":{"datum":-482}}},
{"data":{"name":"ev_ac"},"mark":{"type":"rule","strokeWidth":8,"strokeDash":[28.5,31.5],"strokeCap":"butt"},"encoding":{"x":{"field":"t","type":"quantitative"},"y":{"datum":1489},"y2":{"datum":-482},"color":{"field":"event","type":"nominal","scale":{"domain":["Coupling on","Forcing on","Forcing off","Coupling off"],"range":["#7b2d8e","#6f9e30","#1414e6","#63c51c"]},"legend":null}}},
{"data":{"name":"wins"},"mark":{"type":"rect","filled":false,"color":"white","strokeWidth":7,"opacity":0.8},"encoding":{"x":{"field":"t1","type":"quantitative"},"x2":{"field":"t2"},"y":{"datum":1430},"y2":{"datum":-400}}},
{"data":{"name":"wins"},"mark":{"type":"rect","filled":false,"color":"black","strokeWidth":3,"strokeDash":[4,4]},"encoding":{"x":{"field":"t1","type":"quantitative"},"x2":{"field":"t2"},"y":{"datum":1430},"y2":{"datum":-400}}}
]},
{"width":2048,"height":601,
"layer":[
{"data":{"name":"sig_ii_teal"},"mark":{"type":"line","interpolate":"natural","color":"white","strokeWidth":12,"opacity":0.85,"strokeJoin":"round"},"encoding":{"x":{"field":"t","type":"quantitative","scale":{"domain":[44.990615,45.05332],"nice":false,"zero":false}},"y":{"field":"v","type":"quantitative","scale":{"domain":[-1085.7,684.5],"nice":false,"zero":false}}}},
{"data":{"name":"sig_ii_orange"},"mark":{"type":"line","interpolate":"natural","color":"white","strokeWidth":12,"opacity":0.85,"strokeJoin":"round"},"encoding":{"x":{"field":"t","type":"quantitative"},"y":{"field":"v","type":"quantitative"}}},
{"data":{"name":"hl"},"mark":{"type":"rule","color":"white","strokeWidth":6},"encoding":{"x":{"datum":45},"x2":{"datum":45.05},"y":{"field":"v","type":"quantitative"}}},
{"data":{"name":"vl_ii"},"mark":{"type":"rule","color":"white","strokeWidth":6},"encoding":{"x":{"field":"t","type":"quantitative"},"y":{"datum":-508},"y2":{"datum":508}}},
{"data":{"name":"hl"},"mark":{"type":"rule","color":"#262626","strokeWidth":3.5},"encoding":{"x":{"datum":45},"x2":{"datum":45.05},"y":{"field":"v","type":"quantitative"}}},
{"data":{"name":"vl_ii"},"mark":{"type":"rule","color":"#262626","strokeWidth":3.5},"encoding":{"x":{"field":"t","type":"quantitative"},"y":{"datum":-508},"y2":{"datum":508}}},
{"data":{"name":"sig_ii_teal"},"mark":{"type":"line","interpolate":"natural","color":"#2a6fc9","strokeWidth":5.5},"encoding":{"x":{"field":"t","type":"quantitative"},"y":{"field":"v","type":"quantitative"}}},
{"data":{"name":"sig_ii_teal"},"mark":{"type":"line","interpolate":"natural","color":"#46d8ad","strokeWidth":4},"encoding":{"x":{"field":"t","type":"quantitative"},"y":{"field":"v","type":"quantitative"}}},
{"data":{"name":"sig_ii_orange"},"mark":{"type":"line","interpolate":"natural","color":"#d5502a","strokeWidth":6},"encoding":{"x":{"field":"t","type":"quantitative"},"y":{"field":"v","type":"quantitative"}}},
{"data":{"name":"sig_ii_orange"},"mark":{"type":"line","interpolate":"natural","color":"#eaa83c","strokeWidth":4},"encoding":{"x":{"field":"t","type":"quantitative"},"y":{"field":"v","type":"quantitative"}}},
{"data":{"name":"xt_ii"},"mark":{"type":"text","font":"Liberation Serif","fontSize":63,"align":"center","baseline":"middle","color":"white","stroke":"white","strokeWidth":5,"strokeJoin":"round"},"encoding":{"x":{"field":"t","type":"quantitative"},"y":{"datum":-645},"text":{"field":"label"}}},
{"data":{"name":"xt_ii"},"mark":{"type":"text","font":"Liberation Serif","fontSize":63,"align":"center","baseline":"middle","color":"black","stroke":"black","strokeWidth":1.6},"encoding":{"x":{"field":"t","type":"quantitative"},"y":{"datum":-645},"text":{"field":"label"}}},
{"data":{"values":[{}]},"mark":{"type":"text","font":"Liberation Serif","fontSize":72,"align":"center","baseline":"middle","color":"white","stroke":"white","strokeWidth":5,"strokeJoin":"round"},"encoding":{"x":{"datum":44.99719},"y":{"datum":312},"text":{"value":"(ii)"}}},
{"data":{"values":[{}]},"mark":{"type":"text","font":"Liberation Serif","fontSize":72,"align":"center","baseline":"middle","color":"black","stroke":"black","strokeWidth":1.6},"encoding":{"x":{"datum":44.99719},"y":{"datum":312},"text":{"value":"(ii)"}}},
{"data":{"name":"link_ii"},"mark":{"type":"line","color":"white","strokeWidth":6},"encoding":{"x":{"field":"t","type":"quantitative"},"y":{"field":"v","type":"quantitative"},"order":{"field":"k","type":"quantitative"}}},
{"data":{"name":"link_ii"},"mark":{"type":"line","color":"black","strokeWidth":3},"encoding":{"x":{"field":"t","type":"quantitative"},"y":{"field":"v","type":"quantitative"},"order":{"field":"k","type":"quantitative"}}},
{"data":{"name":"tip_ii"},"mark":{"type":"point","shape":"M0,0L-0.8,2L0,1.2L0.8,2Z","filled":true,"color":"black","stroke":"white","strokeWidth":1,"size":1225,"opacity":1},"encoding":{"x":{"field":"t","type":"quantitative"},"y":{"field":"v","type":"quantitative"}}}
]}
]
}
